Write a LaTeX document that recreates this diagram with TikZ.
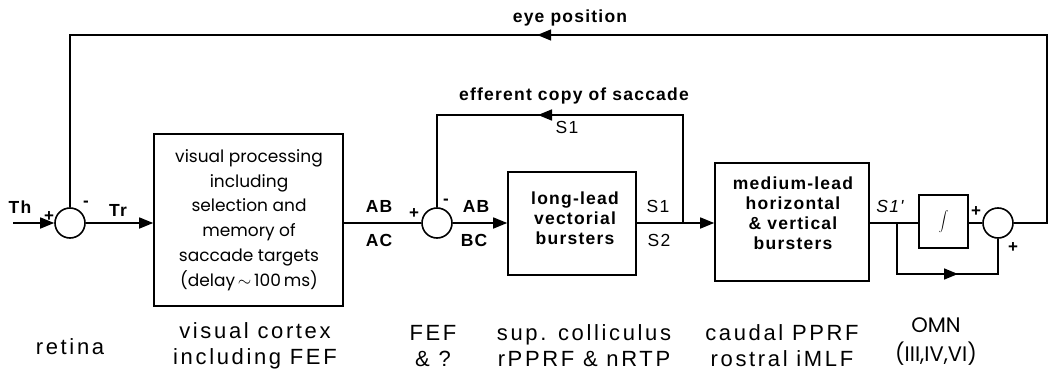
\documentclass[tikz,border=0pt]{standalone}
\usepackage{fontspec}
\setmainfont{Liberation Sans}
\newfontfamily\lblfont[LetterSpace=12]{Liberation Sans}
\newfontfamily\sigfont[LetterSpace=7]{Liberation Sans}
\newfontfamily\geofont{Poppins}
\usetikzlibrary{arrows.meta,decorations.markings}
\begin{document}
\begin{tikzpicture}[x=1pt,y=-1pt,line width=1.6pt,
  blk/.style={draw,rectangle,inner sep=0pt},
  sumc/.style={draw,circle,minimum size=30pt,inner sep=0pt},
  arr/.style={-{Triangle[length=14pt,width=11pt]}},
  midarr/.style={postaction={decorate},decoration={markings,mark=at position #1 with {\arrow{Triangle[length=14pt,width=11pt]}}}},
  geotxt/.style={font=\geofont\fontsize{17}{24.7}\selectfont,align=center,inner sep=0pt},
  bldtxt/.style={font=\sigfont\bfseries\fontsize{17.5}{20}\selectfont,align=center,inner sep=0pt},
  regtxt/.style={font=\sigfont\fontsize{17.5}{20}\selectfont,align=center,inner sep=0pt},
  sgn/.style={font=\bfseries\fontsize{17}{17}\selectfont,inner sep=0pt},
  bottxt/.style={font=\lblfont\fontsize{22}{26}\selectfont,align=center,inner sep=0pt}]
\useasboundingbox (0,0) rectangle (1053,380);

% blocks
\node[sumc] (c1) at (70,223) {};
\node[blk,minimum width=189pt,minimum height=172pt] (b1) at (248.5,220) {};
\node[sumc] (c2) at (437,223) {};
\node[blk,minimum width=128pt,minimum height=103pt] (b2) at (572,223.5) {};
\node[blk,minimum width=154pt,minimum height=118pt] (b3) at (792,222) {};
\node[blk,minimum width=49pt,minimum height=53pt] (bi) at (943.5,221.5) {$\displaystyle\int$};
\node[sumc] (c3) at (998,223) {};

% coordinates
\coordinate (in) at (13,223);
\coordinate (outR) at (1047,223);
\coordinate (topR) at (1047,35);
\coordinate (topL) at (70,35);
\coordinate (fbR) at (683,223);
\coordinate (fbT) at (683,115);
\coordinate (bpL) at (897,223);
\coordinate (bpB) at (897,274);

% connectors
\draw[arr] (in) -- (c1.west);
\draw[arr] (c1.east) -- (c1.east -| b1.west);
\draw (c2.west -| b1.east) -- (c2.west);
\draw[arr] (c2.east) -- (c2.east -| b2.west);
\draw[arr] (c2.east -| b2.east) -- (c2.east -| b3.west);
\draw (c2.east -| b3.east) -- (c2.east -| bi.west);
\draw (c2.east -| bi.east) -- (c3.west);
\draw[midarr=731pt] (c3.east) -- (outR) -- (topR) -- (topL) -- (c1.north);
\draw[midarr=253pt] (fbR) -- (fbT) -| (c2.north);
\draw[midarr=112pt] (bpL) -- (bpB) -| (c3.south);

% block texts
\node[geotxt] (t1) at (249,220) {visual processing\\including\\selection and\\memory of\\saccade targets\\(delay\,$\sim$\,100\,ms)};
\node[bldtxt] (t2) at (575,218) {long-lead\\vectorial\\bursters};
\node[bldtxt] (t3) at (793,213) {medium-lead\\horizontal\\\& vertical\\bursters};

% signal labels
\node[bldtxt] (th) at (20,207) {Th};
\node[bldtxt] (tr) at (118,210) {Tr};
\node[bldtxt] (ab1) at (379,206) {AB};
\node[bldtxt] (ac) at (379,240) {AC};
\node[bldtxt] (ab2) at (476,206) {AB};
\node[bldtxt] (bc) at (474,240) {BC};
\node[regtxt] (s1a) at (658,206) {S1};
\node[regtxt] (s2) at (659,240) {S2};
\node[regtxt] (s1b) at (567,127) {S1};
\node[bldtxt] (eff) at (574,96) {efferent copy of saccade};
\node[bldtxt] (eye) at (570,18) {eye position};
\node[regtxt,font=\sigfont\itshape\fontsize{17.5}{20}\selectfont] (s1p) at (890,206) {S1'};

% signs
\node[sgn] (p1) at (49,217) {+};
\node[sgn] (m1) at (86,204) {-};
\node[sgn] (p2) at (414,214) {+};
\node[sgn] (m2) at (446,202) {-};
\node[sgn] (p3) at (976,212) {+};
\node[sgn] (p4) at (1013,248) {+};

% bottom labels
\node[bottxt] (lret) at (70,347) {retina};
\node[bottxt] (lvc) at (255,346) {visual cortex\\including FEF};
\node[bottxt] (lfef) at (433,346) {FEF\\\& ?};
\node[bottxt] (lsc) at (584,346) {sup. colliculus\\rPPRF \& nRTP};
\node[bottxt] (lcp) at (782,346) {caudal PPRF\\rostral iMLF};
\node[font=\geofont\fontsize{21}{29}\selectfont,align=center,inner sep=0pt] (lomn) at (936,342) {OMN\\(III,IV,VI)};
\end{tikzpicture}
\end{document}
